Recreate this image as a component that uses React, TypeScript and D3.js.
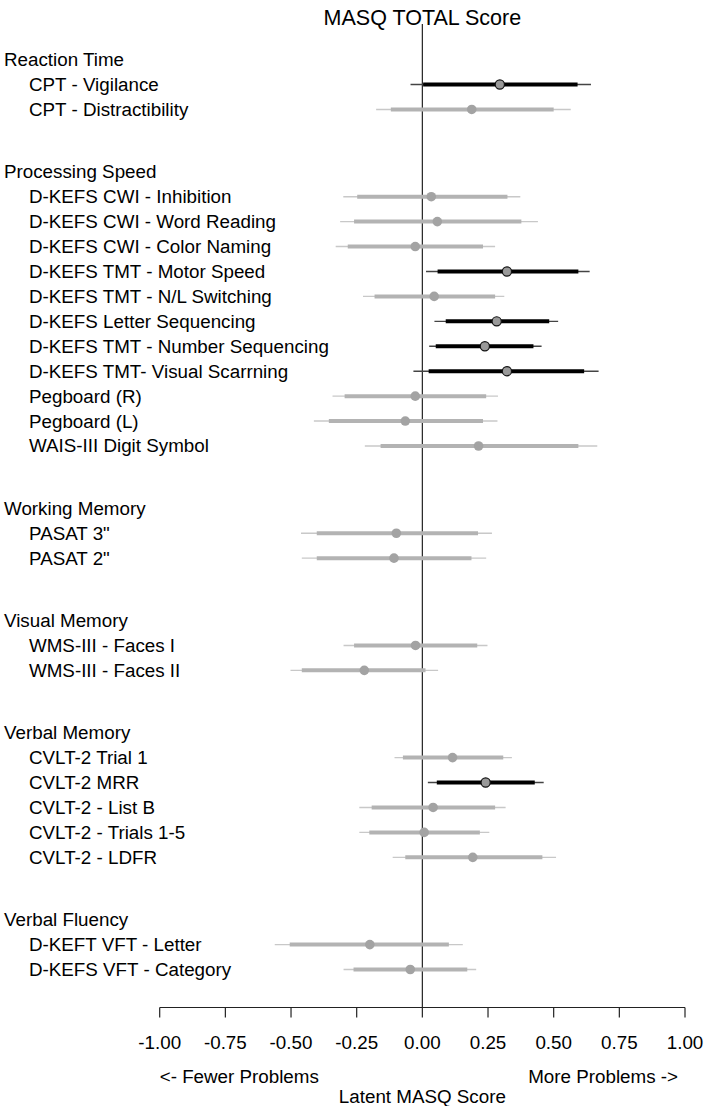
import React from "react";
import * as d3 from "d3";

const title = "MASQ TOTAL Score";
const groups = ["Reaction Time", "Processing Speed", "Working Memory", "Visual Memory", "Verbal Memory", "Verbal Fluency"];
const measures = [
  "CPT - Vigilance", "CPT - Distractibility",
  "D-KEFS CWI - Inhibition", "D-KEFS CWI - Word Reading", "D-KEFS CWI - Color Naming",
  "D-KEFS TMT - Motor Speed", "D-KEFS TMT - N/L Switching", "D-KEFS Letter Sequencing",
  "D-KEFS TMT - Number Sequencing", "D-KEFS TMT- Visual Scarrning", "Pegboard (R)", "Pegboard (L)",
  "WAIS-III Digit Symbol",
  "PASAT 3\"", "PASAT 2\"",
  "WMS-III - Faces I", "WMS-III - Faces II",
  "CVLT-2 Trial 1", "CVLT-2 MRR", "CVLT-2 - List B", "CVLT-2 - Trials 1-5", "CVLT-2 - LDFR",
  "D-KEFT VFT - Letter", "D-KEFS VFT - Category",
];
const groupIndex = [0, 0, 1, 1, 1, 1, 1, 1, 1, 1, 1, 1, 1, 2, 2, 3, 3, 4, 4, 4, 4, 4, 5, 5];
const estimate = [0.295, 0.188, 0.034, 0.057, -0.027, 0.322, 0.045, 0.283, 0.238, 0.322, -0.027, -0.065, 0.214,
  -0.099, -0.108, -0.026, -0.221, 0.115, 0.241, 0.041, 0.007, 0.192, -0.2, -0.046];
const innerLo = [0.003, -0.12, -0.248, -0.26, -0.284, 0.058, -0.182, 0.089, 0.051, 0.024, -0.296, -0.356, -0.159,
  -0.402, -0.402, -0.26, -0.459, -0.074, 0.055, -0.193, -0.202, -0.065, -0.505, -0.262];
const innerHi = [0.591, 0.5, 0.324, 0.377, 0.231, 0.594, 0.277, 0.483, 0.423, 0.616, 0.243, 0.231, 0.594,
  0.212, 0.187, 0.209, 0.012, 0.308, 0.428, 0.277, 0.219, 0.457, 0.101, 0.171];
const outerLo = [-0.045, -0.176, -0.301, -0.313, -0.33, 0.014, -0.226, 0.046, 0.026, -0.034, -0.342, -0.413, -0.219,
  -0.462, -0.459, -0.3, -0.502, -0.106, 0.021, -0.24, -0.24, -0.113, -0.562, -0.3];
const outerHi = [0.642, 0.565, 0.373, 0.44, 0.277, 0.637, 0.312, 0.517, 0.454, 0.671, 0.288, 0.286, 0.666,
  0.265, 0.243, 0.248, 0.06, 0.341, 0.462, 0.317, 0.255, 0.509, 0.154, 0.205];
const significant = [true, false, false, false, false, true, false, true, true, true, false, false, false,
  false, false, false, false, false, true, false, false, false, false, false];
const xTicks = [-1, -0.75, -0.5, -0.25, 0, 0.25, 0.5, 0.75, 1];
const xTitle = "Latent MASQ Score";
const leftNote = "<- Fewer Problems";
const rightNote = "More Problems ->";

const W = 705;
const H = 1106;
const FONT = "'Liberation Sans', Arial, Helvetica, sans-serif";

export default function App() {
  // slot positions: 1 per item, 3.5 gap between groups
  const slots: number[] = [];
  let s = 0;
  measures.forEach((_, i) => {
    if (i > 0) s += groupIndex[i] !== groupIndex[i - 1] ? 3.5 : 1;
    slots.push(s);
  });
  const headerSlots = groups.map((_, g) => slots[groupIndex.indexOf(g)] - 1);

  const x = d3.scaleLinear().domain([-1, 1]).range([159.7, 685]);
  const y = d3.scaleLinear().domain([0, 1]).range([84.5, 109.43]);
  const axisY = 1007.5;

  return (
    <svg width={W} height={H} style={{ position: "absolute", left: 0, top: 0, background: "#fff" }} fontFamily={FONT}>
      <rect width={W} height={H} fill="#fff" />
      <text x={x(0)} y={18} textAnchor="middle" dominantBaseline="central" fontSize={21.5} fill="#000">{title}</text>
      <line x1={x(0)} x2={x(0)} y1={24} y2={axisY} stroke="#222" strokeWidth={1.2} />
      {groups.map((g, gi) => (
        <text key={g} x={4} y={y(headerSlots[gi])} dominantBaseline="central" fontSize={18.8} fill="#000">{g}</text>
      ))}
      {measures.map((m, i) => {
        const yy = y(slots[i]);
        const sig = significant[i];
        return (
          <g key={m}>
            <text x={29} y={yy} dominantBaseline="central" fontSize={18.8} fill="#000">{m}</text>
            <line x1={x(outerLo[i])} x2={x(outerHi[i])} y1={yy} y2={yy} stroke={sig ? "#444" : "#c8c8c8"} strokeWidth={1.4} />
            <line x1={x(innerLo[i])} x2={x(innerHi[i])} y1={yy} y2={yy} stroke={sig ? "#000" : "#b3b3b3"} strokeWidth={4} />
            <circle cx={x(estimate[i])} cy={yy} r={sig ? 4.6 : 4.8} fill={sig ? "#999" : "#a3a3a3"}
              stroke={sig ? "#111" : "none"} strokeWidth={1.2} />
          </g>
        );
      })}
      <line x1={x(-1)} x2={x(1)} y1={axisY} y2={axisY} stroke="#222" strokeWidth={1.2} />
      {xTicks.map((t) => (
        <g key={t}>
          <line x1={x(t)} x2={x(t)} y1={axisY} y2={axisY + 10} stroke="#222" strokeWidth={1.2} />
          <text x={x(t)} y={1042} textAnchor="middle" dominantBaseline="central" fontSize={18.8} fill="#000">{t.toFixed(2)}</text>
        </g>
      ))}
      <text x={x(-1)} y={1076} dominantBaseline="central" fontSize={18.8} fill="#000">{leftNote}</text>
      <text x={x(1) - 7} y={1076} textAnchor="end" dominantBaseline="central" fontSize={18.8} fill="#000">{rightNote}</text>
      <text x={x(0)} y={1096.5} textAnchor="middle" dominantBaseline="central" fontSize={18.8} fill="#000">{xTitle}</text>
    </svg>
  );
}
